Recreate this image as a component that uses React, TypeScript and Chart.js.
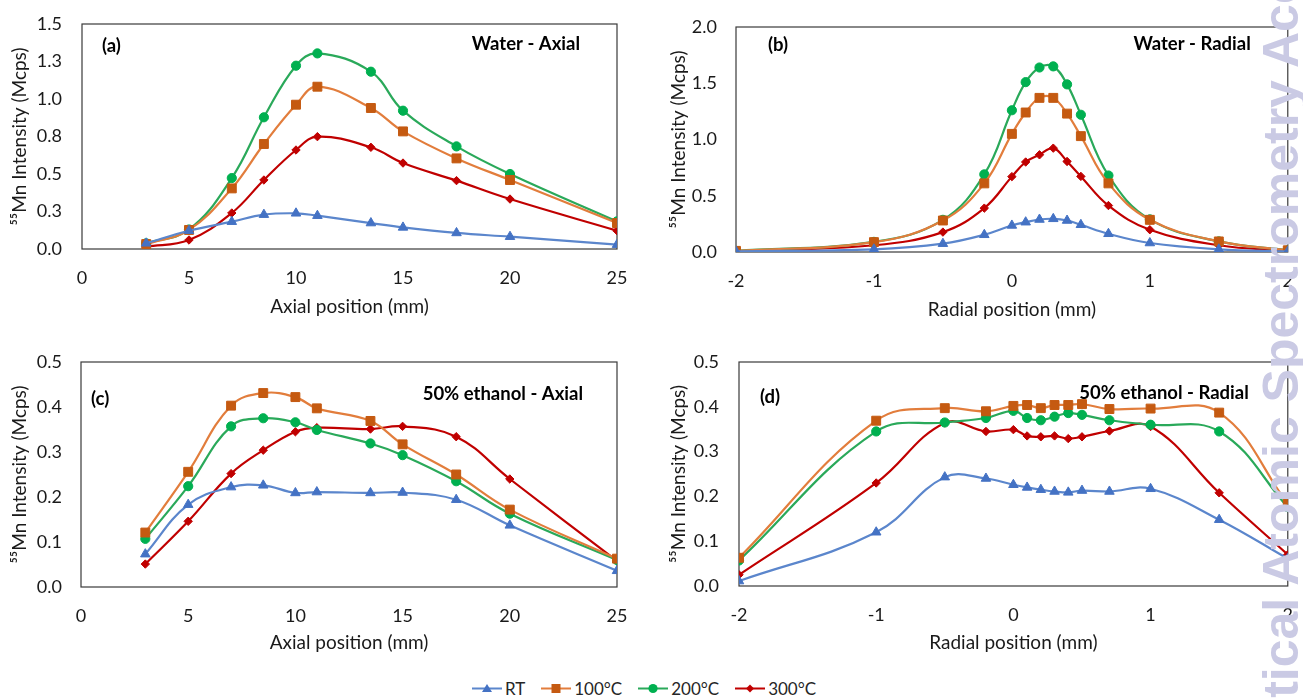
import React, { useEffect, useRef } from 'react';
import { Chart, registerables } from 'chart.js';

Chart.register(...registerables);

// ---------------- data ----------------
const SERIES_NAMES = ['RT', '100°C', '200°C', '300°C'];

const AXIAL_X = [3, 5, 7, 8.5, 10, 11, 13.5, 15, 17.5, 20, 25];
const RADIAL_X = [-2, -1, -0.5, -0.2, 0, 0.1, 0.2, 0.3, 0.4, 0.5, 0.7, 1, 1.5, 2];

const AXIAL_X_TICKS = ['0', '5', '10', '15', '20', '25'];
const RADIAL_X_TICKS = ['-2', '-1', '0', '1', '2'];
const WATER_AXIAL_Y_TICKS = ['0.0', '0.3', '0.5', '0.8', '1.0', '1.3', '1.5'];
const WATER_RADIAL_Y_TICKS = ['0.0', '0.5', '1.0', '1.5', '2.0'];
const ETHANOL_Y_TICKS = ['0.0', '0.1', '0.2', '0.3', '0.4', '0.5'];

// (a) Water - Axial
const WA_RT = [0.038, 0.122, 0.182, 0.229, 0.238, 0.222, 0.173, 0.144, 0.107, 0.082, 0.029];
const WA_100 = [0.033, 0.127, 0.404, 0.7, 0.962, 1.082, 0.94, 0.784, 0.604, 0.46, 0.173];
const WA_200 = [0.038, 0.13, 0.473, 0.878, 1.222, 1.304, 1.182, 0.922, 0.684, 0.5, 0.184];
const WA_300 = [0.016, 0.06, 0.24, 0.46, 0.66, 0.749, 0.678, 0.573, 0.456, 0.333, 0.122];

// (b) Water - Radial
const WR_RT = [0.005, 0.024, 0.074, 0.153, 0.236, 0.265, 0.289, 0.295, 0.28, 0.242, 0.162, 0.08, 0.024, 0.005];
const WR_100 = [0.01, 0.088, 0.28, 0.61, 1.05, 1.24, 1.37, 1.37, 1.23, 1.03, 0.61, 0.286, 0.094, 0.015];
const WR_200 = [0.01, 0.09, 0.286, 0.69, 1.26, 1.51, 1.64, 1.65, 1.49, 1.22, 0.68, 0.29, 0.094, 0.015];
const WR_300 = [0.006, 0.06, 0.177, 0.39, 0.67, 0.8, 0.864, 0.923, 0.805, 0.672, 0.413, 0.198, 0.06, 0.009];

// (c) 50% ethanol - Axial
const EA_RT = [0.073, 0.183, 0.222, 0.226, 0.209, 0.211, 0.209, 0.21, 0.194, 0.137, 0.036];
const EA_100 = [0.121, 0.256, 0.403, 0.431, 0.422, 0.397, 0.369, 0.317, 0.25, 0.172, 0.063];
const EA_200 = [0.107, 0.224, 0.357, 0.375, 0.366, 0.349, 0.319, 0.293, 0.235, 0.163, 0.06];
const EA_300 = [0.051, 0.146, 0.252, 0.304, 0.345, 0.354, 0.351, 0.357, 0.334, 0.24, 0.058];

// (d) 50% ethanol - Radial
const ER_RT = [0.011, 0.12, 0.243, 0.24, 0.226, 0.22, 0.215, 0.211, 0.209, 0.213, 0.211, 0.217, 0.148, 0.061];
const ER_100 = [0.063, 0.369, 0.397, 0.39, 0.402, 0.404, 0.397, 0.404, 0.404, 0.406, 0.395, 0.396, 0.387, 0.183];
const ER_200 = [0.057, 0.345, 0.365, 0.375, 0.391, 0.375, 0.37, 0.378, 0.386, 0.382, 0.37, 0.36, 0.345, 0.176];
const ER_300 = [0.025, 0.23, 0.364, 0.345, 0.349, 0.335, 0.333, 0.335, 0.329, 0.333, 0.346, 0.356, 0.208, 0.07];

// ---------------- styles ----------------
const FONT = 'Lato, "Open Sans", sans-serif';
const TEXT = '#1a1a1a';
const TICK_SIZE = 18;
const TITLE_SIZE = 19;
const STYLES = [
  { line: '#5b86cc', marker: '#4472c4', point: 'triangle', radius: 5.5 },
  { line: '#e27d3c', marker: '#c55a11', point: 'rect', radius: 6.3 },
  { line: '#2aa95a', marker: '#00b050', point: 'circle', radius: 4.6 },
  { line: '#c00000', marker: '#c00000', point: 'rectRot', radius: 4.2 },
];

const PANELS = [
  {
    box: [0, 0, 650, 325], area: [82, 24, 617, 249],
    xs: AXIAL_X, series: [WA_RT, WA_100, WA_200, WA_300],
    xMin: 0, xMax: 25, xStep: 5, xLabels: AXIAL_X_TICKS,
    yMax: 1.5, yStep: 0.25, yLabels: WATER_AXIAL_Y_TICKS,
    xTitle: 'Axial position (mm)', yTitleX: 20, xTitleY: 307, yTickGap: 20,
    tag: '(a)', title: 'Water - Axial', tagDx: 20, titleDx: 37, tagY: 46, titleY: 44,
  },
  {
    box: [650, 0, 653, 325], area: [736, 27, 1289, 252],
    xs: RADIAL_X, series: [WR_RT, WR_100, WR_200, WR_300],
    xMin: -2, xMax: 2, xStep: 1, xLabels: RADIAL_X_TICKS,
    yMax: 2, yStep: 0.5, yLabels: WATER_RADIAL_Y_TICKS,
    xTitle: 'Radial position (mm)', yTitleX: 679, xTitleY: 310, yTickGap: 19,
    tag: '(b)', title: 'Water - Radial', tagDx: 32, titleDx: 37, tagY: 45, titleY: 44,
  },
  {
    box: [0, 335, 650, 325], area: [81, 362, 617, 587],
    xs: AXIAL_X, series: [EA_RT, EA_100, EA_200, EA_300],
    xMin: 0, xMax: 25, xStep: 5, xLabels: AXIAL_X_TICKS,
    yMax: 0.5, yStep: 0.1, yLabels: ETHANOL_Y_TICKS,
    xTitle: 'Axial position (mm)', yTitleX: 20, xTitleY: 643, yTickGap: 19,
    tag: '(c)', title: '50% ethanol - Axial', tagDx: 10, titleDx: 34, tagY: 399, titleY: 394,
  },
  {
    box: [650, 335, 653, 325], area: [739, 362, 1291, 586],
    xs: RADIAL_X, series: [ER_RT, ER_100, ER_200, ER_300],
    xMin: -2, xMax: 2, xStep: 1, xLabels: RADIAL_X_TICKS,
    yMax: 0.5, yStep: 0.1, yLabels: ETHANOL_Y_TICKS,
    xTitle: 'Radial position (mm)', yTitleX: 679, xTitleY: 643, yTickGap: 20,
    tag: '(d)', title: '50% ethanol - Radial', tagDx: 21, titleDx: 39, tagY: 397, titleY: 393,
  },
];

const TICK_MARK = 8; // Chart.js default tickLength, still reserved when grid is hidden

const panelDecor = {
  id: 'panelDecor',
  beforeDatasetsDraw(chart: any) {
    const { ctx, chartArea: a } = chart;
    ctx.save();
    ctx.strokeStyle = '#3a3a3a';
    ctx.lineWidth = 1.2;
    ctx.strokeRect(a.left, a.top, a.right - a.left, a.bottom - a.top);
    ctx.restore();
  },
  afterDraw(chart: any, _args: any, opts: any) {
    const { ctx, chartArea: a } = chart;
    ctx.save();
    ctx.fillStyle = '#000';
    ctx.font = `bold 18.5px ${FONT}`;
    ctx.textBaseline = 'middle';
    ctx.textAlign = 'left';
    ctx.fillText(opts.tag, a.left + opts.tagDx, opts.tagY);
    ctx.textAlign = 'right';
    ctx.fillText(opts.title, a.right - opts.titleDx, opts.titleY);
    ctx.restore();
  },
};

function buildConfig(p: any): any {
  const [cx, cy, cw, ch] = p.box;
  const [L, T, R, B] = p.area;
  const lh = TITLE_SIZE * 1.2;
  const datasets = p.series.map((vals: number[], i: number) => ({
    label: SERIES_NAMES[i],
    data: vals.map((v, k) => ({ x: p.xs[k], y: v })),
    borderColor: STYLES[i].line,
    backgroundColor: STYLES[i].marker,
    pointBackgroundColor: STYLES[i].marker,
    pointBorderColor: STYLES[i].marker,
    pointStyle: STYLES[i].point,
    pointRadius: STYLES[i].radius,
    pointBorderWidth: 1,
    borderWidth: 2.2,
    tension: 0.4,
    fill: false,
  }));
  return {
    type: 'line',
    data: { datasets },
    plugins: [panelDecor],
    options: {
      animation: false,
      responsive: false,
      events: [],
      layout: { padding: { top: T - cy, right: cx + cw - R, left: 0, bottom: 0 } },
      plugins: {
        legend: { display: false },
        tooltip: { enabled: false },
        panelDecor: {
          tag: p.tag, title: p.title, tagDx: p.tagDx, titleDx: p.titleDx,
          tagY: p.tagY - cy, titleY: p.titleY - cy,
        },
      },
      scales: {
        x: {
          type: 'linear',
          min: p.xMin, max: p.xMax,
          grid: { display: false, tickLength: TICK_MARK },
          border: { display: false },
          ticks: {
            stepSize: p.xStep,
            padding: 10,
            color: TEXT,
            font: { family: FONT, size: TICK_SIZE },
            maxRotation: 0,
            callback: (_v: any, idx: number) => p.xLabels[idx],
          },
          title: {
            display: true,
            text: p.xTitle,
            color: TEXT,
            font: { family: FONT, size: TITLE_SIZE },
            padding: { top: 0, bottom: cy + ch - p.xTitleY - lh / 2 },
          },
          afterFit: (axis: any) => { axis.height = cy + ch - B; },
        },
        y: {
          min: 0, max: p.yMax,
          grid: { display: false, tickLength: TICK_MARK },
          border: { display: false },
          ticks: {
            stepSize: p.yStep,
            padding: p.yTickGap - TICK_MARK,
            color: TEXT,
            font: { family: FONT, size: TICK_SIZE },
            callback: (_v: any, idx: number) => p.yLabels[idx],
          },
          title: {
            display: true,
            text: '⁵⁵Mn Intensity (Mcps)',
            color: TEXT,
            font: { family: FONT, size: TITLE_SIZE },
            padding: { top: p.yTitleX - cx - lh / 2, bottom: 0 },
          },
          afterFit: (axis: any) => { axis.width = L - cx; },
        },
      },
    },
  };
}

function Panel({ p }: { p: any }) {
  const ref = useRef<HTMLCanvasElement>(null);
  useEffect(() => {
    const chart = new Chart(ref.current as HTMLCanvasElement, buildConfig(p));
    return () => chart.destroy();
  }, [p]);
  const [cx, cy, cw, ch] = p.box;
  return (
    <canvas
      ref={ref}
      width={cw}
      height={ch}
      style={{ position: 'absolute', left: cx, top: cy, width: cw, height: ch, zIndex: 2 }}
    />
  );
}

function LegendSymbol({ i }: { i: number }) {
  const s = STYLES[i];
  const c = s.marker;
  let shape: any = null;
  if (s.point === 'triangle') shape = <polygon points="15,2 20,10 10,10" fill={c} />;
  else if (s.point === 'rect') shape = <rect x={10.5} y={2} width={9} height={9} fill={c} />;
  else if (s.point === 'circle') shape = <circle cx={15} cy={6.5} r={4.6} fill={c} />;
  else shape = <polygon points="15,2.5 19,6.5 15,10.5 11,6.5" fill={c} />;
  return (
    <svg width={30} height={13} style={{ display: 'block' }}>
      <line x1={0} y1={6.5} x2={30} y2={6.5} stroke={s.line} strokeWidth={2} />
      {shape}
    </svg>
  );
}

export default function App() {
  return (
    <div style={{ position: 'fixed', left: 0, top: 0, width: 1303, height: 698, overflow: 'hidden', background: '#fff' }}>
      {PANELS.map((p, i) => <Panel key={i} p={p} />)}
      <div
        style={{
          position: 'absolute', left: 0, width: 1288, top: 678, display: 'flex', justifyContent: 'center',
          gap: 16, zIndex: 2, font: `17px ${FONT}`, color: '#262626', lineHeight: '21px',
        }}
      >
        {SERIES_NAMES.map((n, i) => (
          <div key={n} style={{ display: 'flex', alignItems: 'center', gap: 3 }}>
            <LegendSymbol i={i} />
            <span>{n}</span>
          </div>
        ))}
      </div>
      <div
        style={{
          position: 'absolute', left: 1255.5, top: 834, transformOrigin: '0 0', transform: 'rotate(-90deg)',
          whiteSpace: 'nowrap', font: 'bold 50px "Liberation Sans", Arial, sans-serif', lineHeight: 1,
          color: '#cacae4', zIndex: 3, pointerEvents: 'none',
        }}
      >
        Analytical Atomic Spectrometry Accepted Manuscript
      </div>
    </div>
  );
}
